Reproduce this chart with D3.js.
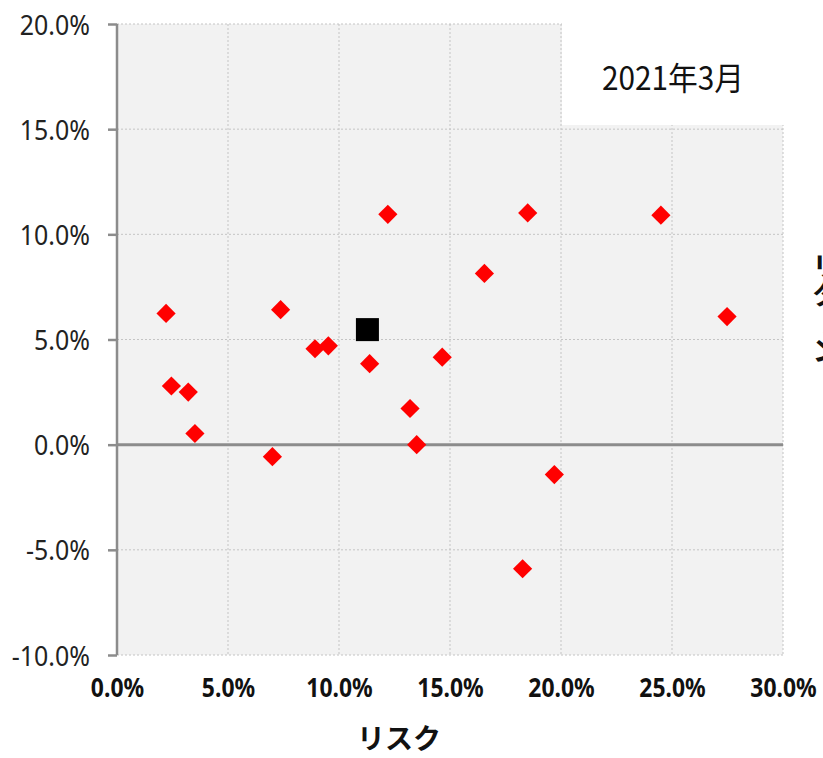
<!DOCTYPE html>
<html>
<head>
<meta charset="utf-8">
<script src="https://cdn.jsdelivr.net/npm/d3@7"></script>
<style>
  body { margin: 0; background: #fff; }
  svg { display: block; }
  .ytick text { font-family: "Noto Sans", sans-serif; font-size: 28px; fill: #222; }
  .xtick text { font-family: "Noto Sans", sans-serif; font-size: 26px; font-weight: bold; fill: #111; }
</style>
</head>
<body>
<div class="chart"></div>
<script>
// risk (x, %) and return (y, %) of each fund
var riskValues = [2.21, 2.45, 3.21, 3.51, 7.0, 7.37, 8.92, 9.52, 11.38, 12.2, 13.2, 13.5, 14.65, 16.55, 18.5, 18.27, 19.7, 24.5, 27.48];
var returnValues = [6.24, 2.79, 2.5, 0.53, -0.57, 6.42, 4.56, 4.7, 3.85, 10.95, 1.72, 0.0, 4.16, 8.14, 11.02, -5.9, -1.42, 10.91, 6.09];

// the portfolio (black square)
var portfolioRisk = [11.28];
var portfolioReturn = [5.47];

var xTicks = [0, 5, 10, 15, 20, 25, 30];
var yTicks = [-10, -5, 0, 5, 10, 15, 20];

var xTitle = "リスク";
var yTitle = "リターン";
var dateLabel = "2021年3月";

var svgWidth = 823;
var svgHeight = 758;

var margin = { top: 24, right: 40, bottom: 103, left: 117 };
var width = 783 - margin.left;
var height = 655 - margin.top;

// squeeze text horizontally so the glyphs come out tall and narrow
function squeeze(sel, k) {
    sel.each(function() {
        var w = this.getComputedTextLength();
        d3.select(this)
            .attr("textLength", w * k)
            .attr("lengthAdjust", "spacingAndGlyphs");
    });
}

var svg = d3.select(".chart")
    .append("svg")
    .attr("width", svgWidth)
    .attr("height", svgHeight);

var chartGroup = svg.append("g")
    .attr("transform", `translate(${margin.left}, ${margin.top})`);

var xScale = d3.scaleLinear().domain([0, 30]).range([0, width]);
var yScale = d3.scaleLinear().domain([-10, 20]).range([height, 0]);

// plot background
chartGroup.append("rect")
    .attr("x", 0).attr("y", 0)
    .attr("width", width).attr("height", height)
    .attr("fill", "#f2f2f2");

// dotted gridlines
chartGroup.append("g")
    .selectAll("line.vgrid")
    .data(xTicks.slice(1))
    .enter()
    .append("line")
    .attr("x1", d => xScale(d)).attr("x2", d => xScale(d))
    .attr("y1", 0).attr("y2", height)
    .attr("stroke", "#c4c4c4")
    .attr("stroke-width", 1)
    .attr("stroke-dasharray", "2,2");

chartGroup.append("g")
    .selectAll("line.hgrid")
    .data(yTicks.filter(d => d !== 0))
    .enter()
    .append("line")
    .attr("x1", 0).attr("x2", width)
    .attr("y1", d => yScale(d)).attr("y2", d => yScale(d))
    .attr("stroke", "#c4c4c4")
    .attr("stroke-width", 1)
    .attr("stroke-dasharray", "2,2");

// white label box in the upper right
chartGroup.append("rect")
    .attr("x", xScale(20) + 1)
    .attr("y", -margin.top)
    .attr("width", width - xScale(20) + 10)
    .attr("height", yScale(15.2) + margin.top)
    .attr("fill", "#fff");

chartGroup.append("text")
    .attr("x", (xScale(20) + width) / 2 + 1)
    .attr("y", 66)
    .attr("text-anchor", "middle")
    .attr("font-family", "'Noto Sans CJK JP', sans-serif")
    .attr("font-size", 32)
    .attr("fill", "#111")
    .text(dateLabel)
    .call(squeeze, 0.93);

// zero line
chartGroup.append("line")
    .attr("x1", 0).attr("x2", width)
    .attr("y1", yScale(0)).attr("y2", yScale(0))
    .attr("stroke", "#8c8c8c")
    .attr("stroke-width", 3);

// y axis with outer ticks
var leftAxis = d3.axisLeft(yScale)
    .tickValues(yTicks)
    .tickSize(9)
    .tickPadding(18)
    .tickFormat(d => d.toFixed(1) + "%");

var yAxisGroup = chartGroup.append("g")
    .attr("class", "ytick")
    .call(leftAxis);
yAxisGroup.select(".domain").attr("stroke", "#8c8c8c").attr("stroke-width", 2.5).attr("d", `M0,0V${height}`);
yAxisGroup.selectAll(".tick line").attr("stroke", "#8c8c8c").attr("stroke-width", 2.5);
yAxisGroup.selectAll(".tick text").attr("dy", "0.36em").call(squeeze, 0.89);

// x axis labels only
var bottomAxis = d3.axisBottom(xScale)
    .tickValues(xTicks)
    .tickSize(0)
    .tickPadding(24)
    .tickFormat(d => d.toFixed(1) + "%");

var xAxisGroup = chartGroup.append("g")
    .attr("class", "xtick")
    .attr("transform", `translate(0, ${height})`)
    .call(bottomAxis);
xAxisGroup.select(".domain").remove();
xAxisGroup.selectAll(".tick text").call(squeeze, 0.88);

// fund points as red diamonds
var funds = riskValues.map((r, i) => ({ x: r, y: returnValues[i] }));
chartGroup.selectAll("path.fund")
    .data(funds)
    .enter()
    .append("path")
    .attr("class", "fund")
    .attr("d", d3.symbol().type(d3.symbolDiamond2).size(235))
    .attr("transform", d => `translate(${xScale(d.x)}, ${yScale(d.y)})`)
    .attr("fill", "#ff0000");

// portfolio point
var portfolio = portfolioRisk.map((r, i) => ({ x: r, y: portfolioReturn[i] }));
chartGroup.selectAll("rect.portfolio")
    .data(portfolio)
    .enter()
    .append("rect")
    .attr("class", "portfolio")
    .attr("x", d => xScale(d.x) - 11.5)
    .attr("y", d => yScale(d.y) - 11.5)
    .attr("width", 23)
    .attr("height", 23)
    .attr("fill", "#000");

// axis titles
chartGroup.append("text")
    .attr("x", 282)
    .attr("y", height + 94)
    .attr("text-anchor", "middle")
    .attr("font-family", "'Noto Sans CJK JP', sans-serif")
    .attr("font-weight", "bold")
    .attr("font-size", 28)
    .attr("fill", "#111")
    .text(xTitle);

// y title sits mostly past the right edge, as in the original
chartGroup.append("text")
    .attr("x", 826 - margin.left)
    .attr("y", 308 - margin.top)
    .attr("text-anchor", "middle")
    .style("writing-mode", "vertical-rl")
    .attr("font-family", "'Noto Sans CJK JP', sans-serif")
    .attr("font-weight", "bold")
    .attr("font-size", 28)
    .attr("fill", "#111")
    .text(yTitle);
</script>
</body>
</html>
